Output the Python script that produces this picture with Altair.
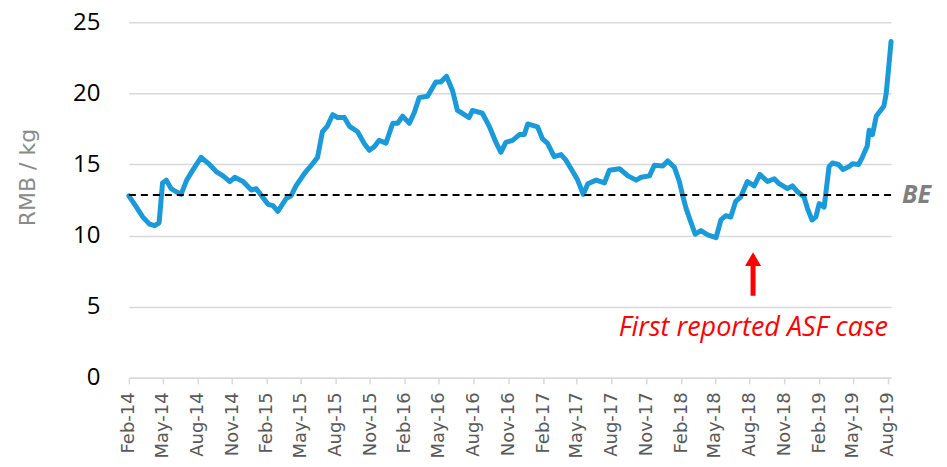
import altair as alt
import pandas as pd

dates = [
    "2014-02-01", "2014-02-21", "2014-03-10", "2014-03-28", "2014-04-10", "2014-04-22",
    "2014-05-01", "2014-05-11", "2014-05-24", "2014-06-05", "2014-06-19", "2014-07-04",
    "2014-07-20", "2014-08-11", "2014-09-02", "2014-09-20", "2014-10-08", "2014-10-26",
    "2014-11-08", "2014-11-30", "2014-12-22", "2015-01-04", "2015-02-04", "2015-02-17",
    "2015-03-02", "2015-03-24", "2015-04-06", "2015-04-19", "2015-05-11", "2015-06-02",
    "2015-06-15", "2015-06-28", "2015-07-11", "2015-07-25", "2015-08-07", "2015-08-25",
    "2015-09-07", "2015-09-29", "2015-10-17", "2015-10-30", "2015-11-12", "2015-11-25",
    "2015-12-13", "2015-12-31", "2016-01-13", "2016-01-26", "2016-02-13", "2016-02-26",
    "2016-03-10", "2016-04-01", "2016-04-23", "2016-05-06", "2016-05-21", "2016-06-06",
    "2016-06-19", "2016-07-02", "2016-07-20", "2016-07-29", "2016-08-24", "2016-09-11",
    "2016-09-29", "2016-10-12", "2016-10-25", "2016-11-12", "2016-11-30", "2016-12-13",
    "2016-12-22", "2017-01-17", "2017-01-30", "2017-02-12", "2017-03-02", "2017-03-20",
    "2017-04-02", "2017-04-20", "2017-05-03", "2017-05-18", "2017-05-30", "2017-06-21",
    "2017-07-13", "2017-07-26", "2017-08-22", "2017-09-13", "2017-10-05", "2017-10-18",
    "2017-11-09", "2017-11-22", "2017-12-14", "2017-12-27", "2018-01-14", "2018-01-27",
    "2018-02-05", "2018-02-14", "2018-02-27", "2018-03-10", "2018-03-25", "2018-04-12",
    "2018-05-04", "2018-05-17", "2018-05-30", "2018-06-12", "2018-06-25", "2018-07-08",
    "2018-07-26", "2018-08-13", "2018-08-28", "2018-09-17", "2018-10-05", "2018-10-18",
    "2018-11-09", "2018-11-22", "2018-12-05", "2018-12-23", "2019-01-01", "2019-01-13",
    "2019-01-23", "2019-02-01", "2019-02-14", "2019-02-27", "2019-03-08", "2019-03-24",
    "2019-04-05", "2019-04-21", "2019-04-30", "2019-05-16", "2019-05-26", "2019-06-08",
    "2019-06-13", "2019-06-22", "2019-07-02", "2019-07-22", "2019-07-28", "2019-08-03",
    "2019-08-10",
]
prices = [
    12.8, 12.0, 11.3, 10.8, 10.7, 10.9,
    13.7, 13.9, 13.3, 13.1, 12.9, 13.9,
    14.6, 15.5, 15.0, 14.5, 14.2, 13.8,
    14.1, 13.8, 13.2, 13.3, 12.2, 12.1,
    11.7, 12.6, 12.8, 13.5, 14.35, 15.05,
    15.5, 17.3, 17.7, 18.5, 18.3, 18.3,
    17.7, 17.3, 16.45, 16.0, 16.25, 16.7,
    16.5, 17.9, 17.9, 18.4, 17.9, 18.65,
    19.7, 19.8, 20.8, 20.8, 21.2, 20.2,
    18.8, 18.6, 18.3, 18.8, 18.6, 17.7,
    16.55, 15.85, 16.55, 16.7, 17.1, 17.1,
    17.85, 17.65, 16.8, 16.5, 15.55, 15.7,
    15.3, 14.5, 13.9, 12.9, 13.65, 13.9,
    13.7, 14.6, 14.7, 14.2, 13.9, 14.1,
    14.2, 14.95, 14.9, 15.25, 14.8, 13.8,
    12.8, 11.9, 10.9, 10.1, 10.35, 10.05,
    9.85, 11.1, 11.4, 11.3, 12.4, 12.7,
    13.8, 13.5, 14.3, 13.8, 14.0, 13.65,
    13.3, 13.5, 13.1, 12.7, 11.9, 11.1,
    11.3, 12.25, 12.0, 14.85, 15.1, 15.0,
    14.65, 14.85, 15.05, 15.0, 15.5, 16.3,
    17.4, 17.1, 18.4, 19.1, 19.95, 21.6,
    23.65,
]

tick_dates = [
    "2014-02-01", "2014-05-01", "2014-08-01", "2014-11-01",
    "2015-02-01", "2015-05-01", "2015-08-01", "2015-11-01",
    "2016-02-01", "2016-05-01", "2016-08-01", "2016-11-01",
    "2017-02-01", "2017-05-01", "2017-08-01", "2017-11-01",
    "2018-02-01", "2018-05-01", "2018-08-01", "2018-11-01",
    "2019-02-01", "2019-05-01", "2019-08-01",
]
y_ticks = [0, 5, 10, 15, 20, 25]

be_level = 12.85
be_label = "BE"
arrow_date = "2018-08-10"
arrow_bottom = 5.77
arrow_shaft_top = 7.9
arrow_head_y = 8.35
note_text = "First reported ASF case"
note_y = 2.92

x_start = "2014-02-01"
x_end = "2019-08-10"


def to_ms(s):
    return int(pd.Timestamp(s, tz="UTC").value // 10**6)


line_df = pd.DataFrame({"date": dates, "price": prices})
be_df = pd.DataFrame({"start": [x_start], "end": [x_end], "y": [be_level], "label": [be_label]})
arrow_df = pd.DataFrame({"date": [arrow_date], "y0": [arrow_bottom], "y1": [arrow_shaft_top], "yh": [arrow_head_y]})
note_df = pd.DataFrame({"date": [x_end], "y": [note_y], "label": [note_text]})

x_scale = alt.Scale(type="utc", domain=[to_ms(x_start), to_ms(x_end)], nice=False)
y_scale = alt.Scale(domain=[0, 25], nice=False)

x_axis = alt.Axis(
    values=[to_ms(d) for d in tick_dates],
    labelExpr="utcFormat(datum.value, '%b-%y')",
    labelAngle=270,
    labelAlign="right",
    labelBaseline="middle",
    labelPadding=8,
    labelFont="DejaVu Sans",
    labelFontSize=18,
    labelColor="#595959",
    labelOverlap=False,
    labelFlush=False,
    labelBound=False,
    domainColor="#d9d9d9",
    domainWidth=1.5,
    tickColor="#d9d9d9",
    tickWidth=1.5,
    tickSize=6,
    grid=False,
    title=None,
)
y_axis = alt.Axis(
    values=y_ticks,
    domain=False,
    ticks=False,
    grid=True,
    gridColor="#d9d9d9",
    gridWidth=1.5,
    labelFont="Open Sans",
    labelFontSize=24,
    labelColor="#000000",
    labelPadding=29,
    labelFlush=False,
    title="RMB / kg",
    titleFont="DejaVu Sans",
    titleFontSize=22,
    titleFontWeight="normal",
    titleColor="#8a8a8a",
    titleAngle=270,
    titleAlign="center",
    titleBaseline="alphabetic",
    titleX=-94,
    titleY=155,
)

line = alt.Chart(line_df).mark_line(
    color="#1a9ad9", strokeWidth=5, strokeCap="round", strokeJoin="round"
).encode(
    x=alt.X("date:T", scale=x_scale, axis=x_axis),
    y=alt.Y("price:Q", scale=y_scale, axis=y_axis),
)

be_rule = alt.Chart(be_df).mark_rule(color="#000000", strokeWidth=2, strokeDash=[7, 5]).encode(
    x=alt.X("start:T", scale=x_scale, axis=x_axis),
    x2="end:T",
    y=alt.Y("y:Q", scale=y_scale, axis=y_axis),
)

be_text = alt.Chart(be_df).mark_text(
    align="left", baseline="middle", dx=11, font="Open Sans", fontSize=25,
    fontStyle="italic", fontWeight="bold", color="#7f7f7f",
).encode(
    x=alt.X("end:T", scale=x_scale, axis=x_axis),
    y=alt.Y("y:Q", scale=y_scale, axis=y_axis),
    text="label:N",
)

arrow_shaft = alt.Chart(arrow_df).mark_rule(color="#ff0000", strokeWidth=5).encode(
    x=alt.X("date:T", scale=x_scale, axis=x_axis),
    y=alt.Y("y0:Q", scale=y_scale, axis=y_axis),
    y2="y1:Q",
)
arrow_head = alt.Chart(arrow_df).mark_point(
    shape="triangle-up", filled=True, color="#ff0000", size=256, opacity=1
).encode(
    x=alt.X("date:T", scale=x_scale, axis=x_axis),
    y=alt.Y("yh:Q", scale=y_scale, axis=y_axis),
)

note = alt.Chart(note_df).mark_text(
    align="right", baseline="alphabetic", dx=-3, font="Open Sans", fontSize=27,
    fontStyle="italic", color="#ff0000",
).encode(
    x=alt.X("date:T", scale=x_scale, axis=x_axis),
    y=alt.Y("y:Q", scale=y_scale, axis=y_axis),
    text="label:N",
)

chart = alt.layer(line, be_rule, be_text, arrow_shaft, arrow_head, note).properties(
    width=763,
    height=356,
    autosize=alt.AutoSizeParams(type="none"),
    padding={"left": 121, "top": 14, "right": 48, "bottom": 81},
).configure(background="#ffffff").configure_view(stroke=None)

chart.save("out.html", embed_options={"renderer": "svg", "actions": False})
